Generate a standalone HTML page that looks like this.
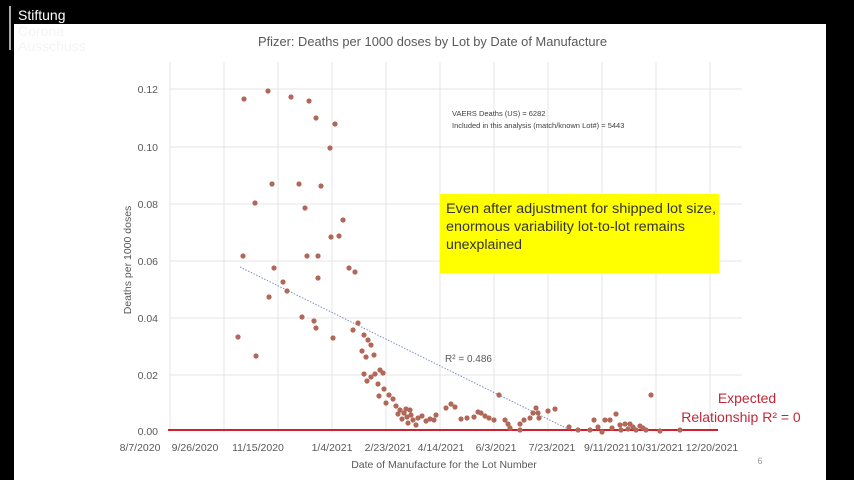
<!DOCTYPE html>
<html><head><meta charset="utf-8"><style>
html,body{margin:0;padding:0;background:#000;width:854px;height:480px;overflow:hidden}
svg{display:block}
</style></head><body>
<svg width="854" height="480" xmlns="http://www.w3.org/2000/svg" font-family="Liberation Sans, sans-serif">
<rect x="0" y="0" width="854" height="480" fill="#000"/>
<rect x="14" y="24" width="812" height="456" fill="#fff"/>
<rect x="9" y="6" width="2" height="44" fill="#aaa"/>
<text x="18" y="20" fill="#fff" font-size="14">Stiftung</text>
<text x="18" y="36" fill="#f4f4f4" font-size="14">Corona</text>
<text x="18" y="51" fill="#f4f4f4" font-size="14">Ausschuss</text>
<text x="258" y="46" fill="#595959" font-size="13" textLength="349" lengthAdjust="spacingAndGlyphs">Pfizer: Deaths per 1000 doses by Lot by Date of Manufacture</text>
<g stroke="#e4e4e4" stroke-width="1">
<line x1="170" y1="62" x2="170" y2="432"/><line x1="224" y1="62" x2="224" y2="432"/><line x1="278" y1="62" x2="278" y2="432"/><line x1="332" y1="62" x2="332" y2="432"/><line x1="386" y1="62" x2="386" y2="432"/><line x1="440" y1="62" x2="440" y2="432"/><line x1="494" y1="62" x2="494" y2="432"/><line x1="548" y1="62" x2="548" y2="432"/><line x1="602" y1="62" x2="602" y2="432"/><line x1="656" y1="62" x2="656" y2="432"/><line x1="710" y1="62" x2="710" y2="432"/>
<line x1="170" y1="89" x2="742" y2="89"/><line x1="170" y1="147" x2="742" y2="147"/><line x1="170" y1="204" x2="742" y2="204"/><line x1="170" y1="261" x2="742" y2="261"/><line x1="170" y1="318" x2="742" y2="318"/><line x1="170" y1="375" x2="742" y2="375"/>
</g>
<g fill="#595959" font-size="10.5" text-anchor="end">
<text x="158" y="93">0.12</text><text x="158" y="151">0.10</text><text x="158" y="208">0.08</text><text x="158" y="265">0.06</text><text x="158" y="322">0.04</text><text x="158" y="379">0.02</text><text x="158" y="435">0.00</text>
</g>
<g fill="#595959" font-size="10.5" text-anchor="middle">
<text x="140" y="451">8/7/2020</text><text x="195" y="451">9/26/2020</text><text x="258" y="451">11/15/2020</text><text x="332" y="451">1/4/2021</text><text x="388" y="451">2/23/2021</text><text x="441" y="451">4/14/2021</text><text x="496" y="451">6/3/2021</text><text x="552" y="451">7/23/2021</text><text x="607" y="451">9/11/2021</text><text x="657" y="451">10/31/2021</text><text x="712" y="451">12/20/2021</text>
</g>
<text x="444" y="468" fill="#595959" font-size="10.5" text-anchor="middle">Date of Manufacture for the Lot Number</text>
<text x="760" y="464" fill="#999" font-size="9" text-anchor="middle">6</text>
<text transform="translate(131,260) rotate(-90)" fill="#595959" font-size="10.5" text-anchor="middle">Deaths per 1000 doses</text>
<text x="452" y="116" fill="#404040" font-size="7.5">VAERS Deaths (US) = 6282</text>
<text x="452" y="128" fill="#404040" font-size="7.5">Included in this analysis (match/known Lot#) = 5443</text>
<rect x="440" y="194" width="279" height="79" fill="#ffff00"/>
<g fill="#333" font-size="13.5"><text x="446" y="213" textLength="270" lengthAdjust="spacingAndGlyphs">Even after adjustment for shipped lot size,</text><text x="446" y="231" textLength="239" lengthAdjust="spacingAndGlyphs">enormous variability lot-to-lot remains</text><text x="446" y="249" textLength="76" lengthAdjust="spacingAndGlyphs">unexplained</text></g>
<line x1="240" y1="267" x2="572" y2="431" stroke="#7c8fc0" stroke-width="1" stroke-dasharray="1.5,1.5"/>
<text x="445" y="362" fill="#595959" font-size="10">R² = 0.486</text>
<line x1="168" y1="430" x2="718" y2="430" stroke="#d0202e" stroke-width="2"/>
<text x="747" y="403" fill="#c0283a" font-size="14" text-anchor="middle">Expected</text>
<text x="741" y="422" fill="#c0283a" font-size="14" text-anchor="middle">Relationship R² = 0</text>
<g fill="#b06858">
<circle cx="244" cy="99" r="2.6"/><circle cx="268" cy="91" r="2.6"/><circle cx="291" cy="97" r="2.6"/><circle cx="309" cy="101" r="2.6"/><circle cx="316" cy="118" r="2.6"/><circle cx="335" cy="124" r="2.6"/><circle cx="330" cy="148" r="2.6"/><circle cx="255" cy="203" r="2.6"/><circle cx="272" cy="184" r="2.6"/><circle cx="299" cy="184" r="2.6"/><circle cx="305" cy="208" r="2.6"/><circle cx="321" cy="186" r="2.6"/><circle cx="343" cy="220" r="2.6"/><circle cx="331" cy="237" r="2.6"/><circle cx="339" cy="236" r="2.6"/><circle cx="243" cy="256" r="2.6"/><circle cx="274" cy="268" r="2.6"/><circle cx="283" cy="282" r="2.6"/><circle cx="287" cy="291" r="2.6"/><circle cx="269" cy="297" r="2.6"/><circle cx="318" cy="256" r="2.6"/><circle cx="307" cy="256" r="2.6"/><circle cx="318" cy="278" r="2.6"/><circle cx="349" cy="268" r="2.6"/><circle cx="355" cy="272" r="2.6"/><circle cx="302" cy="317" r="2.6"/><circle cx="314" cy="321" r="2.6"/><circle cx="316" cy="328" r="2.6"/><circle cx="238" cy="337" r="2.6"/><circle cx="256" cy="356" r="2.6"/><circle cx="333" cy="338" r="2.6"/><circle cx="358" cy="323" r="2.6"/><circle cx="353" cy="330" r="2.6"/><circle cx="364" cy="335" r="2.6"/><circle cx="368" cy="340" r="2.6"/><circle cx="371" cy="345" r="2.6"/><circle cx="362" cy="351" r="2.6"/><circle cx="366" cy="357" r="2.6"/><circle cx="374" cy="355" r="2.6"/><circle cx="364" cy="374" r="2.6"/><circle cx="367" cy="381" r="2.6"/><circle cx="371" cy="377" r="2.6"/><circle cx="375" cy="374" r="2.6"/><circle cx="380" cy="370" r="2.6"/><circle cx="383" cy="373" r="2.6"/><circle cx="378" cy="384" r="2.6"/><circle cx="384" cy="389" r="2.6"/><circle cx="379" cy="396" r="2.6"/><circle cx="389" cy="395" r="2.6"/><circle cx="393" cy="399" r="2.6"/><circle cx="386" cy="403" r="2.6"/><circle cx="396" cy="406" r="2.6"/><circle cx="400" cy="410" r="2.6"/><circle cx="404" cy="413" r="2.6"/><circle cx="398" cy="414" r="2.6"/><circle cx="402" cy="419" r="2.6"/><circle cx="407" cy="417" r="2.6"/><circle cx="411" cy="415" r="2.6"/><circle cx="406" cy="409" r="2.6"/><circle cx="410" cy="410" r="2.6"/><circle cx="408" cy="423" r="2.6"/><circle cx="413" cy="420" r="2.6"/><circle cx="418" cy="418" r="2.6"/><circle cx="416" cy="425" r="2.6"/><circle cx="422" cy="416" r="2.6"/><circle cx="426" cy="421" r="2.6"/><circle cx="430" cy="419" r="2.6"/><circle cx="434" cy="420" r="2.6"/><circle cx="436" cy="415" r="2.6"/><circle cx="446" cy="408" r="2.6"/><circle cx="451" cy="404" r="2.6"/><circle cx="455" cy="407" r="2.6"/><circle cx="461" cy="419" r="2.6"/><circle cx="467" cy="418" r="2.6"/><circle cx="474" cy="417" r="2.6"/><circle cx="478" cy="412" r="2.6"/><circle cx="481" cy="413" r="2.6"/><circle cx="485" cy="416" r="2.6"/><circle cx="489" cy="418" r="2.6"/><circle cx="494" cy="420" r="2.6"/><circle cx="499" cy="395" r="2.6"/><circle cx="505" cy="420" r="2.6"/><circle cx="508" cy="424" r="2.6"/><circle cx="510" cy="428" r="2.6"/><circle cx="520" cy="430" r="2.6"/><circle cx="520" cy="424" r="2.6"/><circle cx="524" cy="420" r="2.6"/><circle cx="530" cy="418" r="2.6"/><circle cx="533" cy="413" r="2.6"/><circle cx="536" cy="408" r="2.6"/><circle cx="538" cy="413" r="2.6"/><circle cx="539" cy="418" r="2.6"/><circle cx="548" cy="411" r="2.6"/><circle cx="555" cy="409" r="2.6"/><circle cx="569" cy="427" r="2.6"/><circle cx="578" cy="430" r="2.6"/><circle cx="590" cy="430" r="2.6"/><circle cx="594" cy="420" r="2.6"/><circle cx="598" cy="427" r="2.6"/><circle cx="605" cy="420" r="2.6"/><circle cx="610" cy="420" r="2.6"/><circle cx="616" cy="414" r="2.6"/><circle cx="620" cy="425" r="2.6"/><circle cx="625" cy="424" r="2.6"/><circle cx="628" cy="429" r="2.6"/><circle cx="630" cy="424" r="2.6"/><circle cx="636" cy="430" r="2.6"/><circle cx="640" cy="426" r="2.6"/><circle cx="643" cy="428" r="2.6"/><circle cx="646" cy="430" r="2.6"/><circle cx="651" cy="395" r="2.6"/><circle cx="612" cy="428" r="2.6"/><circle cx="602" cy="432" r="2.6"/><circle cx="660" cy="431" r="2.6"/><circle cx="680" cy="430" r="2.6"/><circle cx="621" cy="430" r="2.6"/><circle cx="633" cy="427" r="2.6"/>
</g>
</svg>
</body></html>
